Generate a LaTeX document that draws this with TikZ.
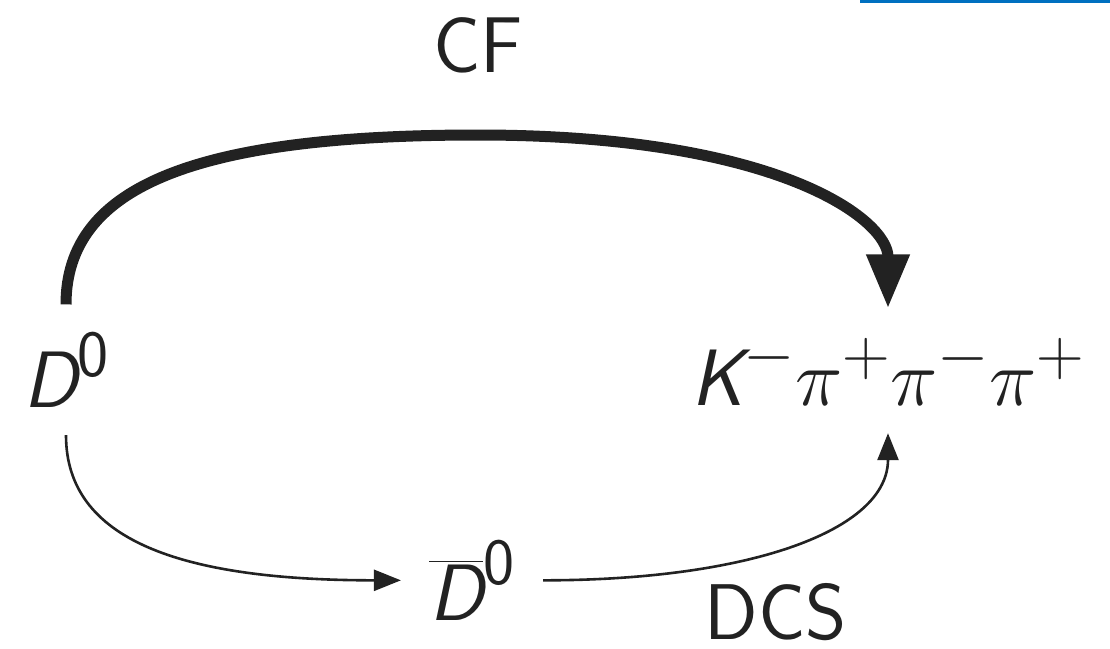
\documentclass[tikz,border=0pt]{standalone}
\usepackage{fix-cm}
\usepackage{amsmath}
\usetikzlibrary{arrows.meta}
\DeclareMathSizes{80}{80}{66}{52}
\definecolor{ink}{RGB}{34,34,34}
\definecolor{topblue}{RGB}{0,112,192}
\begin{document}
\begin{tikzpicture}[x=1pt,y=-1pt,
  lbl/.style={font=\fontsize{79}{95}\selectfont\sffamily, text=ink, inner sep=0pt},
  mathlbl/.style={font=\fontsize{80}{96}\selectfont\sffamily, text=ink},
  state/.style={mathlbl, inner xsep=28pt, inner ysep=28pt},
  thickarrow/.style={draw=ink, line width=11pt, -{Triangle[length=54pt,width=41pt]}},
  thinarrow/.style={draw=ink, line width=2.6pt, -{Triangle[length=27pt,width=21pt]}}]
\useasboundingbox (0,0) rectangle (1110,648);
\fill[topblue] (860,0) rectangle (1110,3);
\node[state, anchor=base] (d0) at (66,407) {$\text{\slshape D}^{\text{0}}$};
\node[state, anchor=base] (k) at (888,405) {$\text{\slshape K}^{-}\pi^{+}\pi^{-}\pi^{+}$};
\node[state, anchor=base] (db) at (472,620) {$\overline{\text{\slshape D}}^{\text{0}}$};
\node[lbl, anchor=base] (cf) at (478,72) {CF};
\node[lbl, anchor=base] (dcs) at (776,639) {DCS};
\coordinate (cftop) at (478,135);
\draw[thickarrow] (d0.north) .. controls +(0,-120) and +(-278,0) .. (cftop) .. controls +(302,0) and +(0,-88) .. (k.north);
\draw[thinarrow] (d0.south) .. controls +(0,105) and +(-220,0) .. (db.west);
\draw[thinarrow] (db.east) .. controls +(207,0) and +(0,97) .. (k.south);
\end{tikzpicture}
\end{document}
